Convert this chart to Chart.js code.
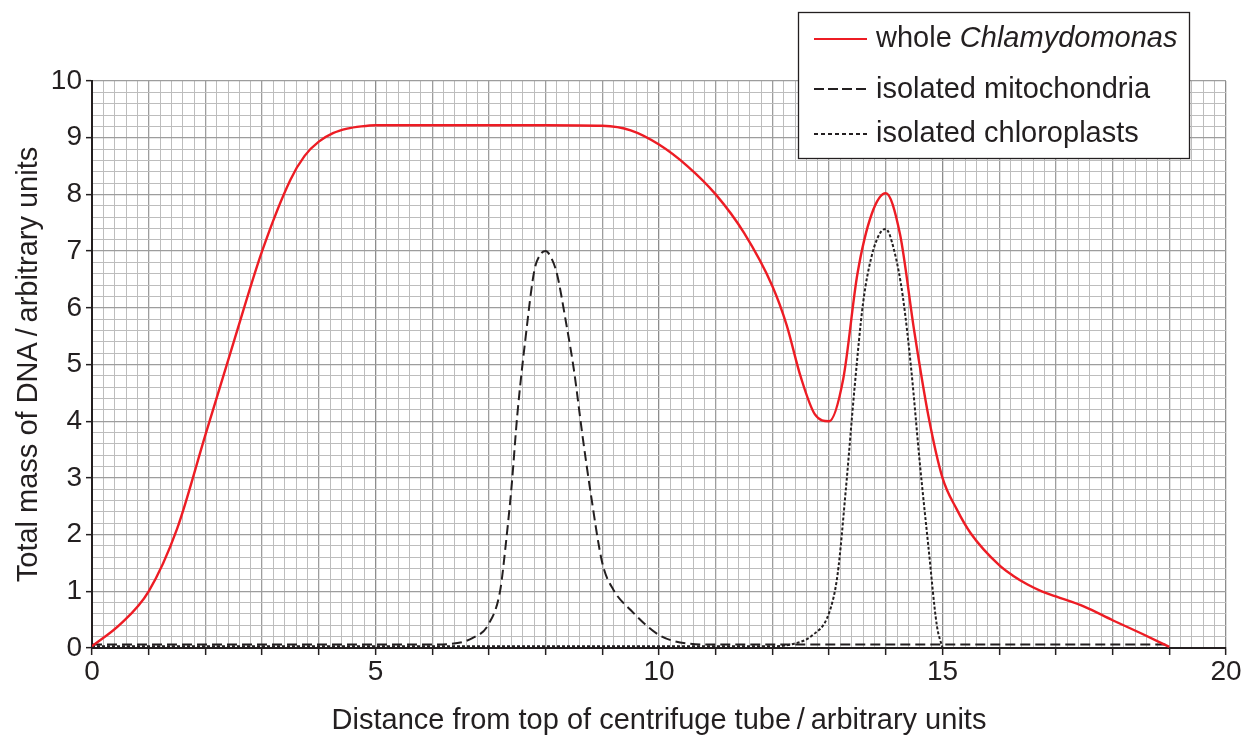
<!DOCTYPE html>
<html>
<head>
<meta charset="utf-8">
<script src="https://cdn.jsdelivr.net/npm/chart.js@4.4.0/dist/chart.umd.min.js"></script>
<style>
  html, body { margin: 0; padding: 0; background: #fff; }
  #wrap { width: 1255px; height: 742px; position: relative; }
</style>
</head>
<body>
<div id="wrap"><canvas id="dnaChart"></canvas></div>
<script>
const redX = [0, 0.5, 1.0, 1.5, 2.0, 2.5, 3.0, 3.5, 3.75, 4.0, 4.25, 4.5, 4.75, 5.0, 6.0, 7.0, 8.0, 9.0, 9.5, 10.0, 10.5, 11.0, 11.5, 12.0, 12.25, 12.5, 12.75, 13.0, 13.25, 13.5, 13.75, 14.0, 14.25, 14.5, 14.75, 15.0, 15.25, 15.5, 16.0, 16.25, 16.5, 16.75, 17.0, 17.5, 18.0, 18.5, 19.0];
const redY = [0.03, 0.42, 1.0, 2.1, 3.76, 5.4, 7.0, 8.26, 8.68, 8.93, 9.08, 9.16, 9.2, 9.22, 9.22, 9.22, 9.22, 9.21, 9.13, 8.88, 8.5, 8.0, 7.32, 6.38, 5.7, 4.78, 4.12, 4.0, 4.75, 6.6, 7.65, 8.02, 7.3, 5.6, 4.1, 3.0, 2.45, 2.02, 1.46, 1.27, 1.12, 1.0, 0.91, 0.73, 0.49, 0.26, 0.02];

const mitoX = [0, 6.0, 6.3, 6.7, 7.0, 7.2, 7.3, 7.4, 7.5, 7.65, 7.8, 7.9, 8.0, 8.1, 8.2, 8.35, 8.5, 8.65, 8.8, 9.0, 9.2, 9.5, 10.0, 10.5, 11.0, 19.0];
const mitoY = [0.06, 0.06, 0.07, 0.17, 0.43, 1.02, 1.85, 2.85, 4.1, 5.5, 6.65, 6.93, 7.0, 6.88, 6.6, 5.8, 4.9, 3.75, 2.7, 1.5, 1.02, 0.67, 0.23, 0.08, 0.06, 0.06];

const chloroX = [0, 12.0, 12.4, 12.7, 13.0, 13.15, 13.3, 13.45, 13.6, 13.75, 13.9, 14.0, 14.15, 14.3, 14.45, 14.6, 14.75, 14.9, 15.0];
const chloroY = [0.03, 0.03, 0.08, 0.22, 0.62, 1.3, 2.85, 4.6, 6.09, 6.91, 7.32, 7.39, 7.0, 6.2, 4.9, 3.26, 1.8, 0.4, 0.0];

const xLabels = [0, 5, 10, 15, 20];
const yLabels = [0, 1, 2, 3, 4, 5, 6, 7, 8, 9, 10];

const legendItems = [
    { plain: 'whole ', italic: 'Chlamydomonas', color: '#ed1c24', dash: [] },
    { plain: 'isolated mitochondria', italic: '', color: '#231f20', dash: [10, 4] },
    { plain: 'isolated chloroplasts', italic: '', color: '#231f20', dash: [4, 3] }
];

const INK = '#231f20';
const FONT = '"Liberation Sans", Arial, sans-serif';

const toPoints = (xs, ys) => xs.map((x, i) => ({ x: x, y: ys[i] }));
const near = (v, list) => list.some(t => Math.abs(v - t) < 1e-6);
const isWhole = v => Math.abs(v - Math.round(v)) < 1e-6;

function gridColor(ctx, everyFive) {
    if (!ctx.tick) return '#b5b5b5';
    const v = ctx.tick.value;
    if (everyFive && isWhole(v) && Math.round(v) % 5 === 0) return '#8c8c8c';
    if (isWhole(v)) return '#9d9d9d';
    return '#bdbdbd';
}

// Boxed legend drawn on top, with the species name in italics
const boxLegend = {
    id: 'boxLegend',
    afterDraw(chart) {
        const c = chart.ctx;
        c.save();
        c.fillStyle = '#fff';
        c.fillRect(798, 12, 391, 146);
        c.strokeStyle = INK;
        c.lineWidth = 1.3;
        c.strokeRect(798.5, 12.5, 391, 146);
        const rows = [[39, 47], [89, 98], [134, 142]];
        legendItems.forEach((item, i) => {
            const [ly, ty] = rows[i];
            c.beginPath();
            c.setLineDash(item.dash);
            c.strokeStyle = item.color;
            c.lineWidth = 2;
            c.moveTo(814, ly);
            c.lineTo(867, ly);
            c.stroke();
            c.setLineDash([]);
            c.fillStyle = INK;
            c.textBaseline = 'alphabetic';
            c.textAlign = 'left';
            c.font = '29px ' + FONT;
            c.fillText(item.plain, 876, ty);
            if (item.italic) {
                const w = c.measureText(item.plain).width;
                c.font = 'italic 29px ' + FONT;
                c.fillText(item.italic, 876 + w, ty);
            }
        });
        c.restore();
    }
};

const ctx = document.getElementById('dnaChart').getContext('2d');

new Chart(ctx, {
    type: 'scatter',
    data: {
        datasets: [
            {
                label: 'whole Chlamydomonas',
                data: toPoints(redX, redY),
                borderColor: '#ed1c24',
                borderWidth: 2.4
            },
            {
                label: 'isolated mitochondria',
                data: toPoints(mitoX, mitoY),
                borderColor: INK,
                borderWidth: 2,
                borderDash: [10, 5]
            },
            {
                label: 'isolated chloroplasts',
                data: toPoints(chloroX, chloroY),
                borderColor: INK,
                borderWidth: 2,
                borderDash: [3, 2]
            }
        ]
    },
    options: {
        responsive: true,
        maintainAspectRatio: false,
        animation: false,
        showLine: true,
        elements: {
            point: { radius: 0, hoverRadius: 0 },
            line: { cubicInterpolationMode: 'monotone', fill: false }
        },
        layout: { padding: { top: 81, right: 29, left: 0, bottom: 0 } },
        plugins: {
            legend: { display: false },
            tooltip: { enabled: false }
        },
        scales: {
            x: {
                type: 'linear',
                min: 0,
                max: 20,
                afterFit: s => { s.height = 94; },
                border: { color: INK, width: 2 },
                grid: {
                    color: c => gridColor(c, true),
                    lineWidth: c => (c.tick && isWhole(c.tick.value)) ? 1.3 : 1,
                    tickLength: 7,
                    tickWidth: 1.5,
                    tickColor: c => (c.tick && isWhole(c.tick.value)) ? INK : 'rgba(0,0,0,0)'
                },
                ticks: {
                    stepSize: 0.2,
                    maxTicksLimit: 1000,
                    autoSkip: false,
                    maxRotation: 0,
                    minRotation: 0,
                    padding: 0,
                    color: INK,
                    font: { family: FONT, size: 28 },
                    callback: v => near(v, xLabels) ? String(Math.round(v)) : ''
                },
                title: {
                    display: true,
                    text: 'Distance from top of centrifuge tube\u2009/\u2009arbitrary units',
                    color: INK,
                    font: { family: FONT, size: 29 },
                    padding: { top: 0, bottom: 4 }
                }
            },
            y: {
                type: 'linear',
                min: 0,
                max: 10,
                afterFit: s => { s.width = 92; },
                border: { color: INK, width: 2 },
                grid: {
                    color: c => gridColor(c, false),
                    lineWidth: c => (c.tick && isWhole(c.tick.value)) ? 1.3 : 1,
                    tickLength: 6,
                    tickWidth: 1.5,
                    tickColor: c => (c.tick && isWhole(c.tick.value)) ? INK : 'rgba(0,0,0,0)'
                },
                ticks: {
                    stepSize: 0.2,
                    maxTicksLimit: 1000,
                    autoSkip: false,
                    padding: 4,
                    color: INK,
                    font: { family: FONT, size: 28 },
                    callback: v => near(v, yLabels) ? String(Math.round(v)) : ''
                },
                title: {
                    display: true,
                    text: 'Total mass of DNA\u2009/\u2009arbitrary units',
                    color: INK,
                    font: { family: FONT, size: 29 },
                    padding: { top: 12, bottom: 0 }
                }
            }
        }
    },
    plugins: [boxLegend]
});
</script>
</body>
</html>
